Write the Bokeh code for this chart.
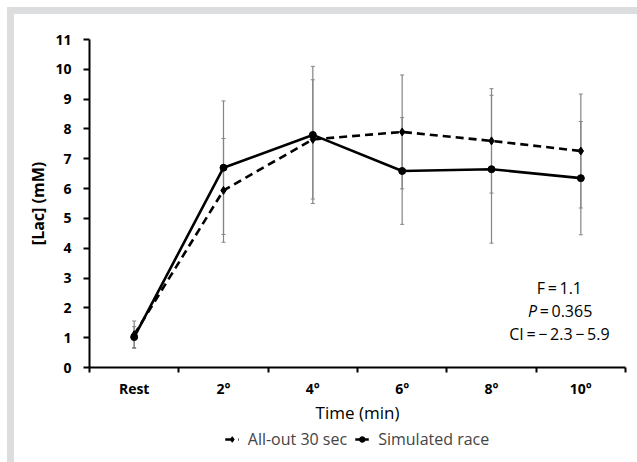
from bokeh.plotting import figure
from bokeh.models import (Range1d, FixedTicker, Whisker, TeeHead, ColumnDataSource,
                          Legend, LegendItem, Label, LinearAxis)
from bokeh.layouts import column
from bokeh.embed import file_html
from bokeh.resources import INLINE

# ---- data ----
categories = ["Rest", "2°", "4°", "6°", "8°", "10°"]
allout_mean = [1.10, 5.94, 7.65, 7.90, 7.60, 7.26]
allout_sd = [0.46, 1.74, 2.00, 1.91, 1.75, 1.91]
sim_mean = [1.02, 6.70, 7.80, 6.59, 6.65, 6.35]
sim_sd = [0.35, 2.24, 2.30, 1.79, 2.48, 1.90]
y_ticks = list(range(0, 12))
series_names = ["All-out 30 sec", "Simulated race"]
TS = "\u2009"
stat_F = f"F{TS}={TS}1.1"
stat_P_sym = "P"
stat_P_val = f"{TS}={TS}0.365"
stat_CI = f"CI{TS}={TS}\u2212{TS}2.3{TS}\u2212{TS}5.9"

FONT = "Open Sans"
GREY = "#dcdddf"

xpos = [i + 0.5 for i in range(len(categories))]
xbounds = list(range(len(categories) + 1))

src_a = ColumnDataSource(dict(x=xpos, y=allout_mean,
                              lo=[m - s for m, s in zip(allout_mean, allout_sd)],
                              hi=[m + s for m, s in zip(allout_mean, allout_sd)]))
src_s = ColumnDataSource(dict(x=xpos, y=sim_mean,
                              lo=[m - s for m, s in zip(sim_mean, sim_sd)],
                              hi=[m + s for m, s in zip(sim_mean, sim_sd)]))

p = figure(width=637, height=428, x_range=Range1d(0, len(categories)), y_range=Range1d(0, 11),
           output_backend="svg", toolbar_location=None, x_axis_type=None, y_axis_type=None,
           min_border_left=89, min_border_top=39, min_border_right=12, min_border_bottom=61)
p.grid.visible = False
p.outline_line_color = None
p.background_fill_color = "white"
p.border_fill_alpha = 0

# axes
yaxis = LinearAxis(ticker=FixedTicker(ticks=y_ticks, minor_ticks=[]))
yaxis.axis_label = "[Lac] (mM)"
yaxis.axis_line_width = 2
yaxis.major_tick_line_width = 2
yaxis.major_tick_out = 6
yaxis.major_tick_in = 0
yaxis.major_label_standoff = 12
yaxis.major_label_text_font = FONT
yaxis.major_label_text_font_size = "14px"
yaxis.major_label_text_font_style = "bold"
yaxis.major_label_text_color = "black"
yaxis.axis_label_text_font = FONT
yaxis.axis_label_text_font_size = "16px"
yaxis.axis_label_text_font_style = "bold"
yaxis.axis_label_text_color = "black"
yaxis.axis_label_standoff = 3
p.add_layout(yaxis, "left")

xaxis = LinearAxis(ticker=FixedTicker(ticks=xpos, minor_ticks=xbounds))
xaxis.major_label_overrides = {x: c for x, c in zip(xpos, categories)}
xaxis.axis_label = "Time (min)"
xaxis.axis_line_width = 2
xaxis.major_tick_out = 0
xaxis.major_tick_in = 0
xaxis.minor_tick_out = 5
xaxis.minor_tick_in = 0
xaxis.minor_tick_line_width = 2
xaxis.major_label_standoff = 6
xaxis.major_label_text_font = FONT
xaxis.major_label_text_font_size = "14px"
xaxis.major_label_text_font_style = "bold"
xaxis.major_label_text_color = "black"
xaxis.axis_label_text_font = FONT
xaxis.axis_label_text_font_size = "17px"
xaxis.axis_label_text_font_style = "normal"
xaxis.axis_label_text_color = "black"
xaxis.axis_label_standoff = 0
p.add_layout(xaxis, "below")

# error bars
for src in (src_a, src_s):
    w = Whisker(base="x", upper="hi", lower="lo", source=src,
                line_color="#858585", line_width=1.2,
                upper_head=TeeHead(size=4, line_color="#858585", line_width=1),
                lower_head=TeeHead(size=4, line_color="#858585", line_width=1))
    p.add_layout(w)

# lines
line_a = dict(line_color="black", line_width=2.6, line_dash="8 5")
line_s = dict(line_color="black", line_width=2.6)
mark_a = dict(marker="diamond", size=8, color="black")
mark_s = dict(marker="circle", size=7, color="black")
p.line("x", "y", source=src_a, **line_a)
p.scatter("x", "y", source=src_a, **mark_a)
p.line("x", "y", source=src_s, **line_s)
p.scatter("x", "y", source=src_s, **mark_s)

# stats text
tx = 5.26
for yv, t in [(2.65, stat_F), (1.11, stat_CI)]:
    p.add_layout(Label(x=tx, y=yv, text=t, text_align="center", text_baseline="middle",
                       text_font=FONT, text_font_size="16px", text_color="black"))
p.add_layout(Label(x=5.01, y=1.88, text=stat_P_sym, text_align="right", text_baseline="middle",
                   text_font=FONT, text_font_size="16px", text_font_style="italic", text_color="black"))
p.add_layout(Label(x=5.01, y=1.88, text=stat_P_val, text_align="left", text_baseline="middle",
                   text_font=FONT, text_font_size="16px", text_color="black"))

# legend strip: a small figure below the axis title, sharing the series' sources
# (its y range is set away from the data, so only the legend is visible)
lf = figure(width=637, height=34, x_range=Range1d(0, len(categories)), y_range=Range1d(100, 101),
            output_backend="svg", toolbar_location=None, x_axis_type=None, y_axis_type=None,
            min_border_left=76, min_border_right=0, min_border_top=0, min_border_bottom=12)
lf.grid.visible = False
lf.outline_line_color = None
lf.background_fill_alpha = 0
lf.border_fill_alpha = 0
ra1 = lf.line("x", "y", source=src_a, **line_a)
ra2 = lf.scatter("x", "y", source=src_a, **mark_a)
rs1 = lf.line("x", "y", source=src_s, **line_s)
rs2 = lf.scatter("x", "y", source=src_s, **mark_s)
legend = Legend(items=[LegendItem(label=series_names[0], renderers=[ra1, ra2]),
                       LegendItem(label=series_names[1], renderers=[rs1, rs2])],
                orientation="horizontal", location="center",
                border_line_color=None, background_fill_alpha=0,
                label_text_font=FONT, label_text_font_size="16px",
                glyph_width=14, glyph_height=16, label_standoff=9, spacing=8,
                padding=0, margin=0)
lf.add_layout(legend)

band = (f"linear-gradient({GREY},{GREY}) 7px 7px / calc(100% - 7px) 7px no-repeat, "
        f"linear-gradient({GREY},{GREY}) 7px 7px / 7px calc(100% - 7px) no-repeat, #ffffff")
layout = column(p, lf, spacing=0, styles={"background": band})

open("out.html", "w").write(file_html(layout, INLINE))
